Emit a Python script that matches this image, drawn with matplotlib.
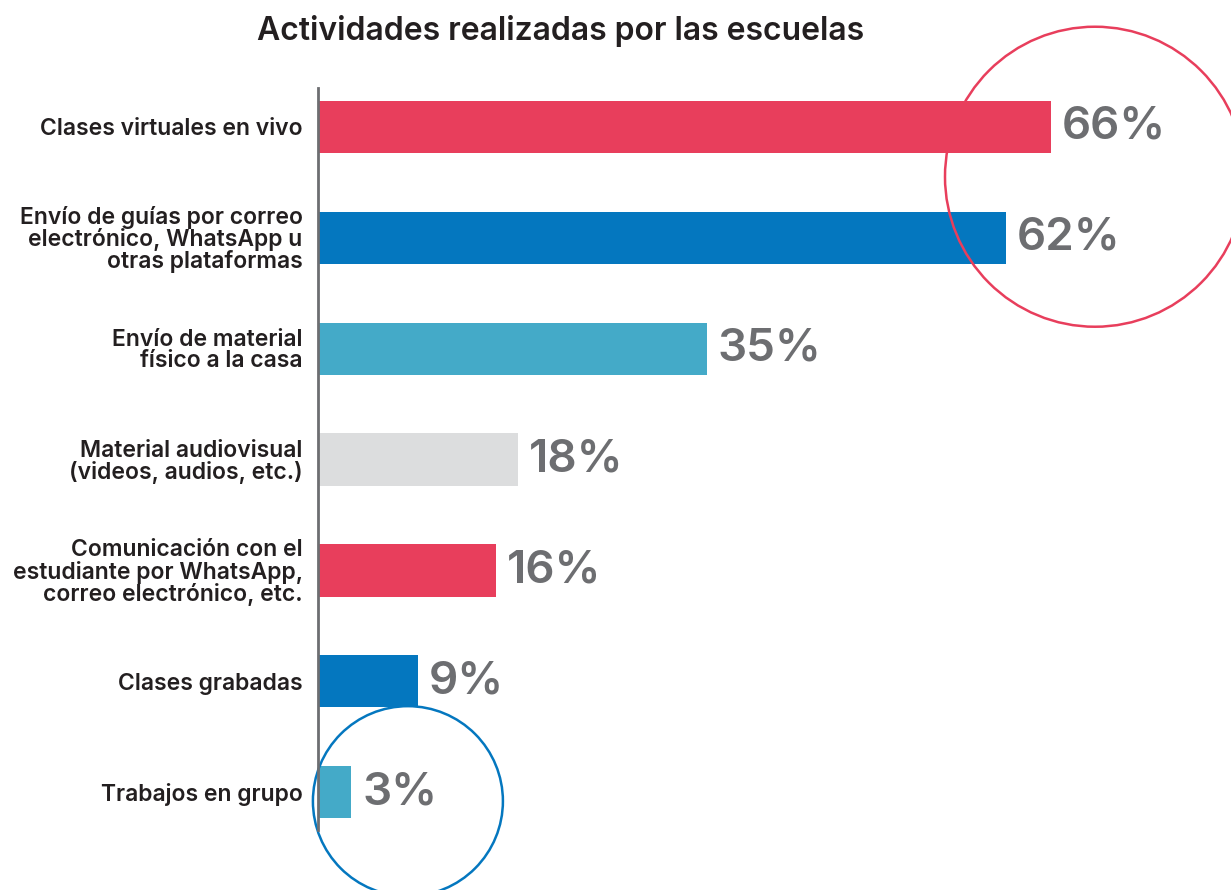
import matplotlib.pyplot as plt
from matplotlib.patches import Ellipse

# data
categories = [
    "Clases virtuales en vivo",
    "Envío de guías por correo\nelectrónico, WhatsApp u\notras plataformas",
    "Envío de material\nfísico a la casa",
    "Material audiovisual\n(videos, audios, etc.)",
    "Comunicación con el\nestudiante por WhatsApp,\ncorreo electrónico, etc.",
    "Clases grabadas",
    "Trabajos en grupo",
]
values = [66, 62, 35, 18, 16, 9, 3]
bar_colors = ["#E83E5C", "#0477BF", "#44AAC8", "#DCDDDE", "#E83E5C", "#0477BF", "#44AAC8"]
title = "Actividades realizadas por las escuelas"

# highlight circles: (x center, y center, radius in px, colour)
highlights = [(70.0, 0.45, 150, "#E83E5C"), (8.1, 6.08, 95, "#0477BF")]

FONT = "Inter"
W, H = 1231, 890
fig = plt.figure(figsize=(W / 100, H / 100), dpi=100)

# axes placement in pixels
ax_left, ax_top, ax_bottom = 318, 88, 830
px_per_unit = 11.1
xmax = 80
ax = fig.add_axes([ax_left / W, 1 - ax_bottom / H,
                   xmax * px_per_unit / W, (ax_bottom - ax_top) / H])

ypos = list(range(len(values)))
ax.barh(ypos, values, height=0.47, color=bar_colors)
ax.set_xlim(0, xmax)
ax.set_ylim(6.34, -0.35)
y_px_per_unit = (ax_bottom - ax_top) / (6.34 + 0.35)

for y, v in zip(ypos, values):
    ax.text(v + 11 / px_per_unit, y, f"{v}%", va="center", ha="left",
            fontsize=33, fontweight="semibold", color="#6D6E71",
            family=FONT)

for cx, cy, r, c in highlights:
    ax.add_patch(Ellipse((cx, cy), 2 * r / px_per_unit, 2 * r / y_px_per_unit,
                         fill=False, edgecolor=c, linewidth=1.8, clip_on=False))

ax.set_yticks(ypos)
ax.set_yticklabels(categories, fontsize=16.5, fontweight="semibold",
                   color="#231F20", family=FONT)
for lbl in ax.get_yticklabels():
    lbl.set_linespacing(0.95)
ax.tick_params(axis="y", length=0, pad=11)
ax.set_xticks([])

for s in ["top", "right", "bottom"]:
    ax.spines[s].set_visible(False)
ax.spines["left"].set_color("#6D6E71")
ax.spines["left"].set_linewidth(2)

fig.text(561 / W, 1 - 31 / H, title, ha="center", va="center",
         fontsize=23, fontweight="semibold", color="#231F20", family=FONT)

fig.savefig("out.png", dpi=100)
